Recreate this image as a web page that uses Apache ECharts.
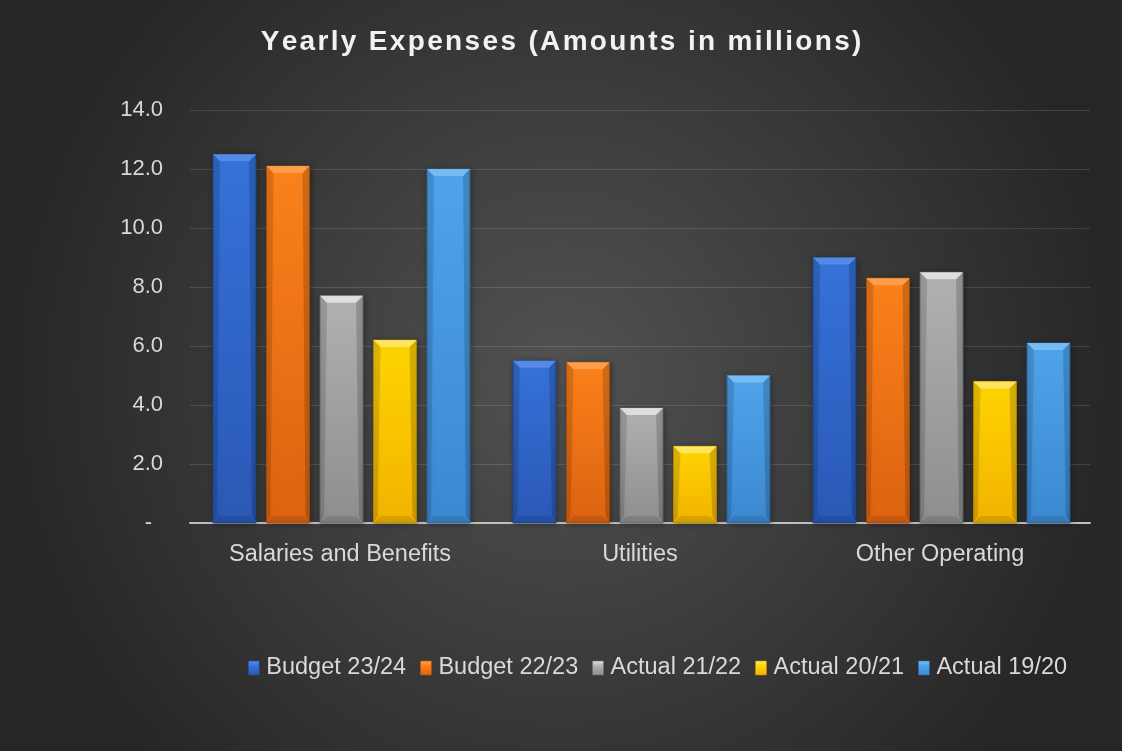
<!DOCTYPE html>
<html>
<head>
<meta charset="utf-8">
<style>
  html, body { margin: 0; padding: 0; width: 1122px; height: 751px; overflow: hidden; }
  #chart { width: 1122px; height: 751px; }
</style>
<script src="https://cdn.jsdelivr.net/npm/echarts@6/dist/echarts.min.js"></script>
</head>
<body>
<div id="chart"></div>
<script>
// Expense categories and yearly amounts (millions)
const categories = ['Salaries and Benefits', 'Utilities', 'Other Operating'];
const seriesNames = ['Budget 23/24', 'Budget 22/23', 'Actual 21/22', 'Actual 20/21', 'Actual 19/20'];
const budget2324 = [12.5, 5.5, 9.0];
const budget2223 = [12.1, 5.45, 8.3];
const actual2122 = [7.7, 3.9, 8.5];
const actual2021 = [6.2, 2.6, 4.8];
const actual1920 = [12.0, 5.0, 6.1];
const yTicks = [0, 2, 4, 6, 8, 10, 12, 14];

const seriesValues = [budget2324, budget2223, actual2122, actual2021, actual1920];

// face colours per series: [top, bottom, light bevel, dark edge]
const palette = [
  ['#3572d9', '#2a58b5', '#5b8fe6', '#1f4690'],
  ['#fb811b', '#dc6310', '#ffa455', '#b44e08'],
  ['#b1b1b1', '#8e8e8e', '#e6e6e6', '#6d6d6d'],
  ['#ffd400', '#f2b300', '#ffe970', '#c78f00'],
  ['#4ea4ec', '#3c88d0', '#7fc0f5', '#2c6aa6']
];

const nSeries = seriesValues.length;
const barFrac = 43 / 300;     // bar width relative to category band
const stepFrac = 53.5 / 300;  // distance between neighbouring bars

function makeRender(si) {
  const c = palette[si];
  return function (params, api) {
    const ci = api.value(0);
    const val = api.value(1);
    const base = api.coord([ci, 0]);
    const top = api.coord([ci, val]);
    const band = api.size([1, 0])[0];
    const w = band * barFrac;
    const cx = base[0] + 1.5 + (si - (nSeries - 1) / 2) * band * stepFrac;
    const x0 = cx - w / 2, x1 = cx + w / 2;
    const y0 = top[1], y1 = base[1];
    const b = Math.min(7, (y1 - y0) / 3);
    const side = 4;
    const body = {
      type: 'rect',
      shape: { x: x0, y: y0, width: w, height: y1 - y0 },
      style: {
        fill: new echarts.graphic.LinearGradient(0, 0, 0, 1, [
          { offset: 0, color: c[0] }, { offset: 1, color: c[1] }
        ]),
        stroke: c[3], lineWidth: 0.8,
        shadowBlur: 6, shadowColor: 'rgba(0,0,0,0.35)', shadowOffsetX: 1, shadowOffsetY: 1
      }
    };
    const topBevel = {
      type: 'polygon',
      shape: { points: [[x0, y0], [x1, y0], [x1 - side - 3, y0 + b], [x0 + side + 3, y0 + b]] },
      style: { fill: c[2], opacity: 0.85 }
    };
    const leftBevel = {
      type: 'polygon',
      shape: { points: [[x0, y0], [x0 + side + 3, y0 + b], [x0 + side, y1 - b], [x0, y1]] },
      style: { fill: 'rgba(0,0,0,0.12)' }
    };
    const rightBevel = {
      type: 'polygon',
      shape: { points: [[x1, y0], [x1 - side - 3, y0 + b], [x1 - side, y1 - b], [x1, y1]] },
      style: { fill: 'rgba(0,0,0,0.16)' }
    };
    const bottomBevel = {
      type: 'polygon',
      shape: { points: [[x0, y1], [x1, y1], [x1 - side - 3, y1 - b], [x0 + side + 3, y1 - b]] },
      style: { fill: 'rgba(0,0,0,0.10)' }
    };
    return { type: 'group', children: [body, leftBevel, rightBevel, bottomBevel, topBevel] };
  };
}

// Title with open letter spacing
const titleText = 'Yearly Expenses (Amounts in millions)'.split('').join('\u200A');

const chart = echarts.init(document.getElementById('chart'), null, { renderer: 'canvas' });

chart.setOption({
  backgroundColor: new echarts.graphic.RadialGradient(0.5, 0.5, 0.75, [
    { offset: 0, color: '#525252' },
    { offset: 1, color: '#262626' }
  ]),
  textStyle: { fontFamily: '"Liberation Sans", Arial, sans-serif' },
  title: {
    text: titleText,
    left: 'center',
    top: 23,
    textStyle: { color: '#f2f2f2', fontSize: 28, fontWeight: 'bold', fontFamily: '"Liberation Sans", Arial, sans-serif' }
  },
  legend: {
    data: seriesNames.map((n, i) => ({
      name: n,
      itemStyle: {
        color: new echarts.graphic.LinearGradient(0, 0, 0, 1, [
          { offset: 0, color: palette[i][2] }, { offset: 0.35, color: palette[i][0] }, { offset: 1, color: palette[i][1] }
        ]),
        borderColor: palette[i][3], borderWidth: 0.6
      }
    })),
    top: 651,
    left: 243,
    icon: 'rect',
    itemWidth: 11,
    itemHeight: 14,
    itemGap: 14,
    textStyle: { color: '#d9d9d9', fontSize: 23.5, padding: [0, 0, 0, 2] }
  },
  grid: { left: 190, right: 32, top: 110, bottom: 228, containLabel: false },
  xAxis: {
    type: 'category',
    data: categories,
    axisLine: { lineStyle: { color: '#bfbfbf', width: 2 } },
    axisTick: { show: false },
    axisLabel: { color: '#d9d9d9', fontSize: 23.5, margin: 20 }
  },
  yAxis: {
    type: 'value',
    min: yTicks[0],
    max: yTicks[yTicks.length - 1],
    interval: yTicks[1] - yTicks[0],
    axisLine: { show: false },
    axisTick: { show: false },
    splitLine: { lineStyle: { color: 'rgba(255,255,255,0.13)', width: 1 } },
    axisLabel: {
      color: '#d9d9d9', fontSize: 22, margin: 27,
      formatter: v => (v === 0 ? '-\u2002' : v.toFixed(1))
    }
  },
  series: seriesValues.map((vals, si) => ({
    type: 'custom',
    name: seriesNames[si],
    itemStyle: { color: palette[si][0] },
    encode: { x: 0, y: 1 },
    data: vals.map((v, ci) => [ci, v]),
    renderItem: makeRender(si),
    z: 2
  }))
});
</script>
</body>
</html>
